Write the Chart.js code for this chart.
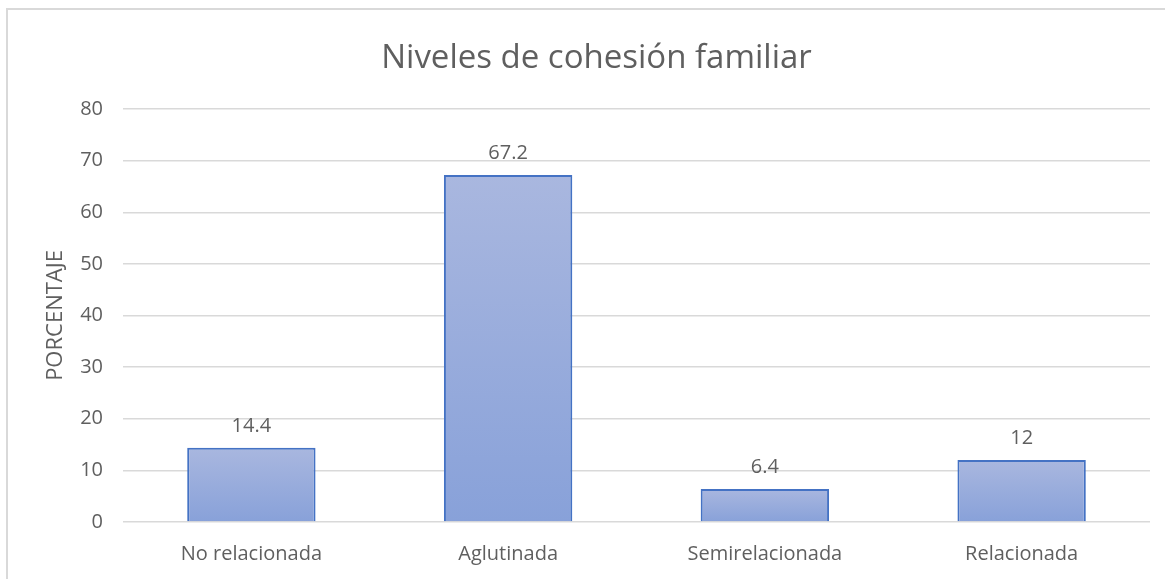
<!DOCTYPE html>
<html>
<head>
<meta charset="utf-8">
<script src="https://cdn.jsdelivr.net/npm/chart.js@4"></script>
<style>
  html, body { margin: 0; padding: 0; background: #ffffff; }
  #wrap { position: relative; width: 1165px; height: 579px; overflow: hidden; }
  #frame { position: absolute; left: 6px; top: 8px; width: 1170px; height: 600px; border-left: 2px solid #d9d9d9; border-top: 2px solid #d9d9d9; box-sizing: border-box; }
  canvas { position: absolute; left: 0; top: 0; }
</style>
</head>
<body>
<div id="wrap">
  <div id="frame"></div>
  <canvas id="c" width="1165" height="579"></canvas>
</div>
<script>
const categories = ["No relacionada", "Aglutinada", "Semirelacionada", "Relacionada"];
const values = [14.4, 67.2, 6.4, 12];
const valueLabels = ["14.4", "67.2", "6.4", "12"];
const chartTitle = "Niveles de cohesión familiar";
const yTitle = "PORCENTAJE";

const FONT = "'Open Sans', 'Noto Sans', sans-serif";
const TEXT = "#5f5f5f";

const dataLabelPlugin = {
  id: 'dataLabels',
  afterDatasetsDraw(chart) {
    const ctx = chart.ctx;
    const meta = chart.getDatasetMeta(0);
    ctx.save();
    ctx.font = "20px " + FONT;
    ctx.fillStyle = TEXT;
    ctx.textAlign = 'center';
    ctx.textBaseline = 'alphabetic';
    meta.data.forEach((bar, i) => {
      ctx.fillText(valueLabels[i], bar.x, bar.y - 16);
    });
    ctx.restore();
  }
};

new Chart(document.getElementById('c'), {
  type: 'bar',
  data: {
    labels: categories,
    datasets: [{
      data: values,
      backgroundColor: (context) => {
        const chart = context.chart;
        const area = chart.chartArea;
        if (!area) return '#99acdc';
        const y = chart.scales.y;
        const top = y.getPixelForValue(context.raw);
        const base = y.getPixelForValue(0);
        const g = chart.ctx.createLinearGradient(0, top, 0, base);
        g.addColorStop(0, '#a9b7df');
        g.addColorStop(1, '#88a1d9');
        return g;
      },
      borderColor: '#4472c4',
      borderWidth: 2,
      borderSkipped: 'bottom',
      categoryPercentage: 1.0,
      barPercentage: 0.5
    }]
  },
  options: {
    responsive: false,
    animation: false,
    devicePixelRatio: 1,
    layout: { padding: { left: 43, right: 15, top: 8, bottom: 0 } },
    plugins: {
      legend: { display: false },
      tooltip: { enabled: false },
      title: {
        display: true,
        text: chartTitle,
        color: TEXT,
        font: { family: FONT, size: 33, weight: 'normal' },
        padding: { top: 31, bottom: 30.4 }
      }
    },
    scales: {
      x: {
        grid: { display: false, drawTicks: false },
        border: { display: false },
        ticks: { color: TEXT, font: { family: FONT, size: 20 }, padding: 20 },
        afterFit(scale) { scale.height = 57; }
      },
      y: {
        min: 0, max: 80,
        ticks: { stepSize: 10, color: TEXT, font: { family: FONT, size: 20 }, padding: 20 },
        grid: { color: '#d9d9d9', lineWidth: 1.5, drawTicks: false },
        border: { display: false },
        title: {
          display: true,
          text: yTitle,
          color: TEXT,
          font: { family: FONT, size: 22 },
          padding: { top: 0, bottom: 0 }
        },
        afterFit(scale) { scale.width = 80; }
      }
    }
  },
  plugins: [dataLabelPlugin]
});
</script>
</body>
</html>
